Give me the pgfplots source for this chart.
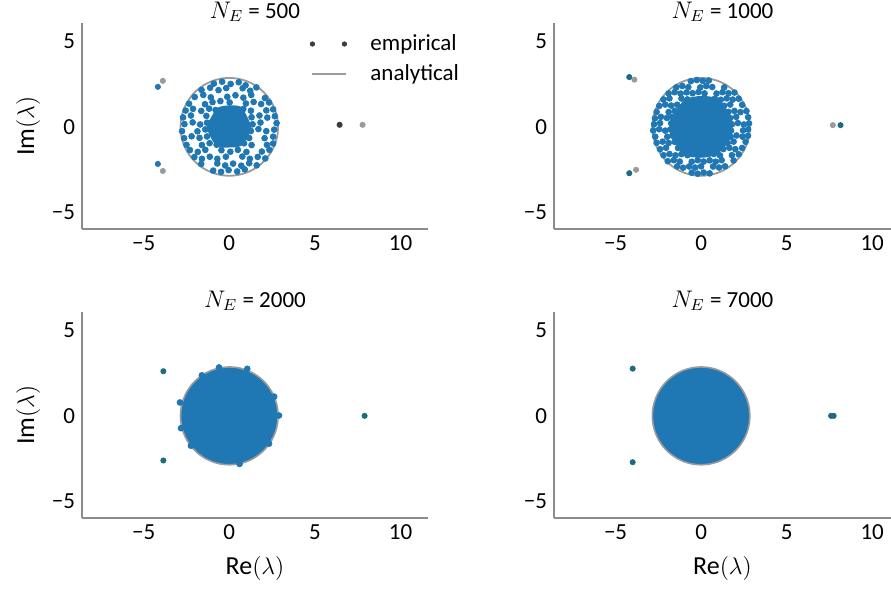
\documentclass[border=0pt]{standalone}
\usepackage{pgfplots}
\pgfplotsset{compat=1.18}
\usepackage{pgfplotstable}
\usepackage{fontspec}
\setmainfont{Carlito}
\definecolor{mblue}{RGB}{31,119,180}
\definecolor{tealo}{RGB}{28,108,128}
\definecolor{cgray}{RGB}{155,155,155}
\definecolor{dgray}{RGB}{60,60,60}
\definecolor{spine}{RGB}{140,140,140}

\pgfplotstableread{
x y
2.850 0.000
2.807 0.495
2.678 0.975
2.468 1.425
2.183 1.832
1.832 2.183
1.425 2.468
0.975 2.678
0.495 2.807
0.000 2.850
-0.495 2.807
-0.975 2.678
-1.425 2.468
-1.832 2.183
-2.183 1.832
-2.468 1.425
-2.678 0.975
-2.807 0.495
-2.850 0.000
-2.807 -0.495
-2.678 -0.975
-2.468 -1.425
-2.183 -1.832
-1.832 -2.183
-1.425 -2.468
-0.975 -2.678
-0.495 -2.807
0.000 -2.850
0.495 -2.807
0.975 -2.678
1.425 -2.468
1.832 -2.183
2.183 -1.832
2.468 -1.425
2.678 -0.975
2.807 -0.495
2.850 0.000
}\circleA

\pgfplotsset{
  panel/.style={
    scale only axis, width=173pt, height=103pt,
    xmin=-8.6, xmax=11.6, ymin=-5.95, ymax=6.05,
    axis lines=left,
    axis line style={-, draw=spine, line width=0.6pt},
    xtick={-5,0,5,10}, xticklabels={−5,0,5,10},
    ytick={-5,0,5}, yticklabels={−5,0,5},
    major tick length=0pt,
    tick label style={font=\fontsize{11.5}{13}\selectfont},
    every axis title shift=0pt,
    title style={font=\fontsize{11.5}{13}\selectfont, at={(axis description cs:0.5,1)}, anchor=base, yshift=2.5pt},
    label style={font=\fontsize{13}{15}\selectfont},
    ylabel style={at={(axis description cs:-0.156,0.5)}, anchor=center},
    xlabel style={at={(axis description cs:0.5,-0.245)}, anchor=center},
  },
  pts/.style={only marks, mark=*, mark size=1.45pt, mblue},
  outl/.style={only marks, mark=*, mark size=1.3pt},
}

\begin{document}
\begin{tikzpicture}
\path[use as bounding box] (0pt,0pt) rectangle (445.5pt,295pt);

% ---------------- N_E = 500 ----------------
\begin{axis}[panel, at={(41pt,180.5pt)}, anchor=south west,
  title={$N_E$ = 500}, ylabel={Im$(\lambda)$},
  legend style={at={(axis description cs:0.64,0.975)}, anchor=north west, draw=none, fill=none,
    font=\fontsize{11.5}{13}\selectfont, row sep=3.5pt, nodes={inner ysep=1pt}},
  legend cell align=left]
\addlegendimage{legend image code/.code={\fill[dgray] (0pt,0pt) circle (1.1pt); \fill[dgray] (16pt,0pt) circle (1.1pt); \path[draw=none] (0pt,0pt) -- (27pt,0pt);}}
\addlegendentry{empirical}
\addlegendimage{legend image code/.code={\draw[cgray, line width=1.2pt] (0pt,0pt) -- (17pt,0pt); \path[draw=none] (0pt,0pt) -- (27pt,0pt);}}
\addlegendentry{analytical}
\addplot[draw=none, fill=mblue, smooth, forget plot] coordinates {
(1.3,0) (1.04,0.6) (0.675,1.17) (0,1.25) (-0.65,1.126) (-1.04,0.6) (-1.3,0)
(-1.08,-0.625) (-0.675,-1.17) (0,-1.2) (0.65,-1.126) (1.08,-0.625) (1.3,0)};
\addplot[pts, forget plot] coordinates {
(-0.9,2.52) (-0.42,2.63) (0.08,2.5) (0.55,2.6) (0.95,2.42)
(-1.62,2.15) (-1.12,2.28) (-0.63,2.14) (-0.18,2.26) (0.78,2.25) (1.22,2.1) (1.58,2.3)
(-2.02,1.74) (-1.52,1.86) (-1.08,1.72) (-0.12,1.75) (0.36,1.84) (0.82,1.7) (1.28,1.86) (2.08,1.68)
(-2.35,1.35) (-1.42,1.32) (-0.98,1.44) (-0.52,1.5) (0.02,1.42) (0.97,1.36) (1.42,1.45) (1.86,1.33) (2.32,1.42)
(-2.55,0.95) (-2.12,1.05) (-1.64,0.93) (-1.18,1.06) (-0.8,0.98) (0.82,1.04) (1.26,0.94) (2.16,0.96) (2.56,1.02)
(-2.7,0.55) (-2.24,0.66) (-1.34,0.64) (1.3,0.56) (1.76,0.66) (2.22,0.54) (2.66,0.62)
(-2.62,0.16) (-2.14,0.26) (-1.7,0.14) (-1.3,0.24) (1.36,0.15) (1.82,0.25) (2.76,0.22)
(-2.76,-0.25) (-1.86,-0.26) (-1.4,-0.15) (1.26,-0.24) (1.7,-0.13) (2.16,-0.25) (2.62,-0.16)
(-2.64,-0.66) (-2.2,-0.55) (-1.74,-0.64) (-1.3,-0.56) (1.16,-0.65) (2.06,-0.66) (2.56,-0.57)
(-2.5,-1.05) (-1.6,-1.06) (-1.15,-0.95) (-0.74,-1.04) (0.86,-0.96) (1.3,-1.06) (2.2,-1.05) (2.56,-0.97)
(-2.3,-1.35) (-1.84,-1.46) (-1.4,-1.34) (-0.46,-1.36) (0.06,-1.45) (0.5,-1.34) (1.0,-1.46) (1.9,-1.44) (2.34,-1.34)
(-2.04,-1.76) (-1.6,-1.86) (-1.14,-1.74) (-0.7,-1.86) (-0.2,-1.74) (0.76,-1.73) (1.2,-1.86) (1.66,-1.75) (2.1,-1.84)
(-1.64,-2.16) (-0.7,-2.13) (-0.24,-2.25) (0.22,-2.14) (0.7,-2.26) (1.16,-2.12) (1.6,-2.24)
(-0.94,-2.55) (-0.48,-2.62) (-0.04,-2.52) (0.46,-2.6) (0.9,-2.48)};
\addplot[cgray, line width=0.9pt, smooth, forget plot] table {\circleA};
\addplot[outl, mblue, forget plot] coordinates {(-4.17,2.33) (-4.17,-2.16)};
\addplot[outl, cgray, forget plot] coordinates {(-3.88,2.68) (-3.88,-2.57) (7.78,0.12)};
\addplot[outl, dgray, forget plot] coordinates {(6.44,0.12)};
\end{axis}

% ---------------- N_E = 1000 ----------------
\begin{axis}[panel, at={(277pt,180.5pt)}, anchor=south west, width=168.5pt, xmax=11.1,
  title={$N_E$ = 1000}]
\addplot[draw=none, fill=mblue, smooth] coordinates {
(1.85,0) (1.56,0.9) (0.95,1.645) (0,1.8) (-0.925,1.6) (-1.515,0.875) (-1.85,0)
(-1.56,-0.9) (-0.95,-1.645) (0,-1.8) (0.925,-1.6) (1.56,-0.9) (1.85,0)};
\addplot[pts] coordinates {
(-0.6,2.66) (-0.25,2.73) (0.1,2.68) (0.45,2.7)
(-1.45,2.3) (-1.1,2.38) (-0.75,2.31) (-0.05,2.3) (0.3,2.38) (0.65,2.32) (1.35,2.3)
(-1.9,1.95) (-1.55,2.02) (-1.2,1.94) (-0.85,2.01) (-0.5,1.96) (-0.15,2.03) (0.2,1.95) (0.9,1.94) (1.25,2.02) (1.6,1.96) (1.95,2.0)
(-2.2,1.6) (-1.85,1.66) (-1.15,1.65) (-0.8,1.6) (0.8,1.64) (1.15,1.58) (1.5,1.66) (1.85,1.59) (2.2,1.64)
(-2.45,1.22) (-2.1,1.3) (-1.75,1.24) (-1.4,1.29) (1.35,1.23) (1.7,1.3) (2.4,1.28)
(-2.6,0.87) (-1.9,0.86) (-1.55,0.93) (1.6,0.87) (1.95,0.93) (2.3,0.86) (2.65,0.92)
(-2.7,0.5) (-2.35,0.58) (-2.0,0.52) (-1.7,0.57) (1.7,0.51) (2.05,0.58) (2.75,0.56)
(-2.75,0.15) (-2.4,0.22) (-1.75,0.21) (1.8,0.15) (2.15,0.22) (2.5,0.14) (2.8,0.2)
(-2.8,-0.21) (-2.45,-0.14) (-2.1,-0.22) (-1.8,-0.15) (1.75,-0.22) (2.45,-0.21) (2.75,-0.15)
(-2.68,-0.57) (-1.98,-0.58) (-1.68,-0.51) (1.72,-0.58) (2.07,-0.5) (2.42,-0.57) (2.74,-0.52)
(-2.6,-0.93) (-2.25,-0.86) (-1.9,-0.94) (-1.55,-0.87) (1.55,-0.94) (1.9,-0.86) (2.6,-0.87)
(-2.4,-1.3) (-2.05,-1.22) (-1.35,-1.23) (1.3,-1.29) (1.65,-1.22) (2.0,-1.3) (2.4,-1.23)
(-2.2,-1.65) (-1.85,-1.58) (-1.5,-1.66) (-1.15,-1.59) (-0.8,-1.65) (0.75,-1.58) (1.1,-1.66) (1.8,-1.65) (2.2,-1.6)
(-1.95,-2.0) (-1.6,-1.94) (-1.25,-2.02) (-0.55,-2.03) (-0.2,-1.94) (0.15,-2.02) (0.5,-1.95) (0.85,-2.03) (1.2,-1.94) (1.9,-1.96)
(-1.4,-2.3) (-1.05,-2.38) (-0.7,-2.31) (-0.35,-2.37) (0.0,-2.3) (0.7,-2.31) (1.05,-2.37) (1.4,-2.3)
(-0.55,-2.67) (-0.2,-2.73) (0.15,-2.66) (0.5,-2.71)};
\addplot[cgray, line width=0.9pt, smooth] table {\circleA};
\addplot[outl, cgray] coordinates {(-3.9,2.75) (-3.8,-2.5) (7.7,0.1)};
\addplot[outl, tealo] coordinates {(-4.2,2.9) (-4.2,-2.7) (8.15,0.1)};
\end{axis}

% ---------------- N_E = 2000 ----------------
\begin{axis}[panel, at={(41pt,36pt)}, anchor=south west,
  title={$N_E$ = 2000}, ylabel={Im$(\lambda)$}, xlabel={Re$(\lambda)$}]
\addplot[draw=none, fill=mblue, smooth] table {\circleA};
\addplot[pts] coordinates {(-2.88,0.78) (-2.82,-0.72) (2.9,0.02) (1.05,2.74) (-1.6,2.36)
(2.32,-1.62) (0.6,-2.8) (-2.24,-1.74) (2.62,1.12) (-0.6,2.82)};
\addplot[cgray, line width=0.8pt, smooth] table {\circleA};
\addplot[outl, tealo] coordinates {(-3.85,2.6) (-3.85,-2.6) (7.9,0.0)};
\end{axis}

% ---------------- N_E = 7000 ----------------
\begin{axis}[panel, at={(277pt,36pt)}, anchor=south west, width=168.5pt, xmax=11.1,
  title={$N_E$ = 7000}, xlabel={Re$(\lambda)$}]
\addplot[draw=none, fill=mblue, smooth] table {\circleA};
\addplot[cgray, line width=0.8pt, smooth] table {\circleA};
\addplot[outl, tealo] coordinates {(-4.0,2.75) (-4.0,-2.7) (7.6,0.0) (7.75,0.0)};
\end{axis}
\end{tikzpicture}
\end{document}
